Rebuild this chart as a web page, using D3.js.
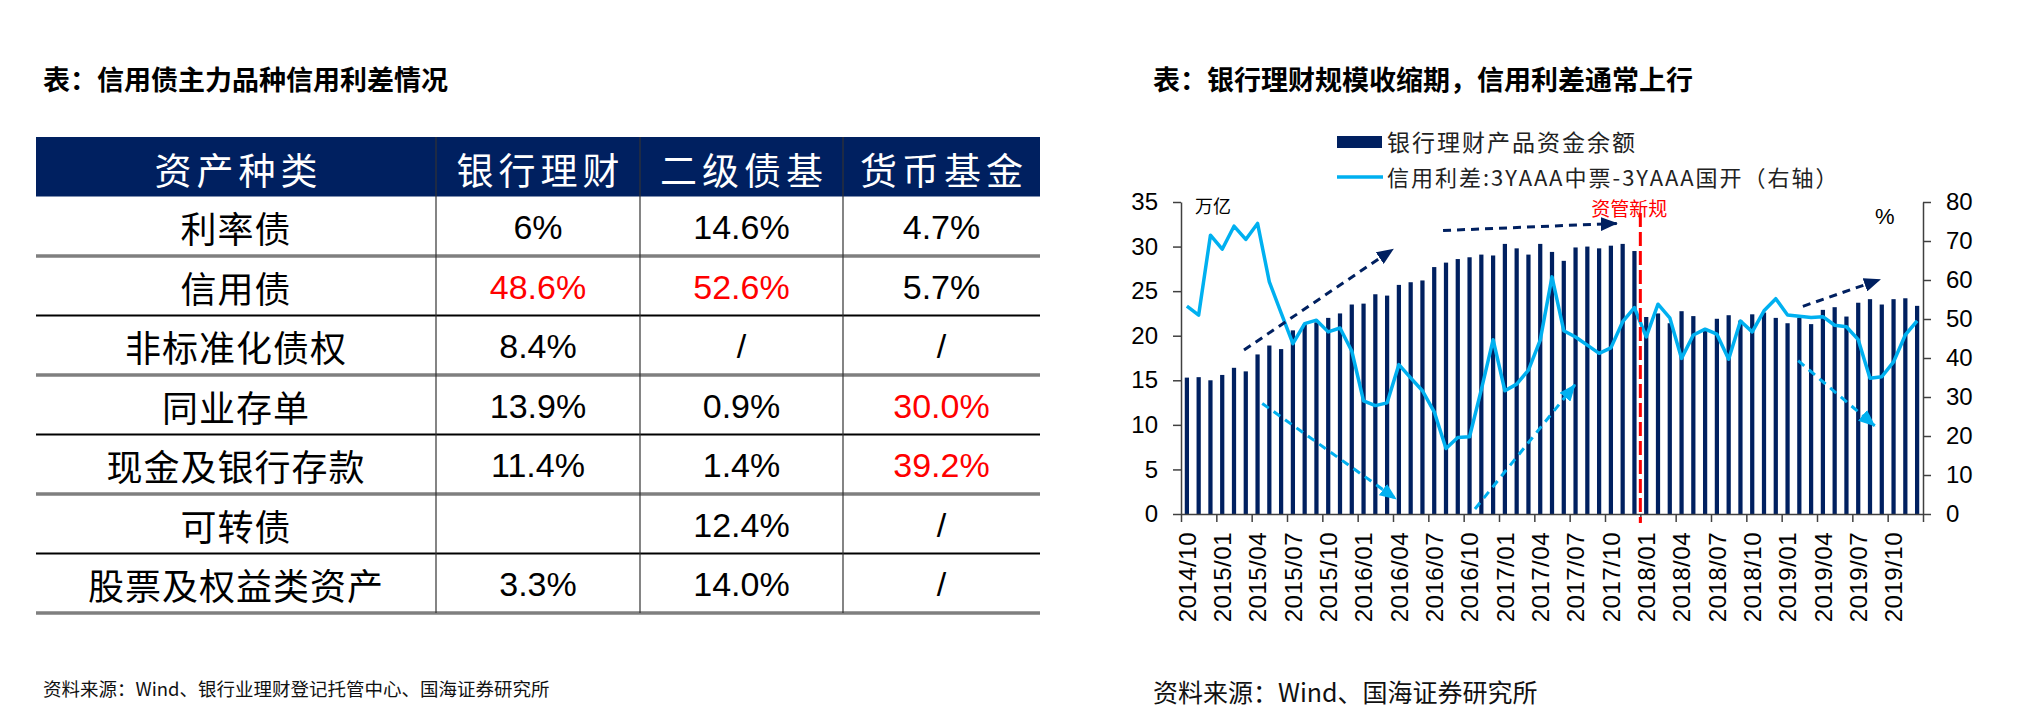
<!DOCTYPE html>
<html>
<head>
<meta charset="utf-8">
<script src="https://cdn.jsdelivr.net/npm/d3@7"></script>
<style>
  body { margin: 0; background: #fff; }
  svg { display: block; }
</style>
</head>
<body>
<svg id="page" width="2032" height="724"></svg>
<script>
// ---------- table data ----------
const tableHeader = ["资产种类", "银行理财", "二级债基", "货币基金"];
const assetTypes = ["利率债", "信用债", "非标准化债权", "同业存单", "现金及银行存款", "可转债", "股票及权益类资产"];
const bankWealth = ["6%", "48.6%", "8.4%", "13.9%", "11.4%", "", "3.3%"];
const bondFundII = ["14.6%", "52.6%", "/", "0.9%", "1.4%", "12.4%", "14.0%"];
const moneyFund = ["4.7%", "5.7%", "/", "30.0%", "39.2%", "/", "/"];
// cells shown in red: "row-col"
const redCells = ["1-1", "1-2", "3-3", "4-3"];

// ---------- chart data ----------
const months = [
  "2014/10","2014/11","2014/12",
  "2015/01","2015/02","2015/03","2015/04","2015/05","2015/06","2015/07","2015/08","2015/09","2015/10","2015/11","2015/12",
  "2016/01","2016/02","2016/03","2016/04","2016/05","2016/06","2016/07","2016/08","2016/09","2016/10","2016/11","2016/12",
  "2017/01","2017/02","2017/03","2017/04","2017/05","2017/06","2017/07","2017/08","2017/09","2017/10","2017/11","2017/12",
  "2018/01","2018/02","2018/03","2018/04","2018/05","2018/06","2018/07","2018/08","2018/09","2018/10","2018/11","2018/12",
  "2019/01","2019/02","2019/03","2019/04","2019/05","2019/06","2019/07","2019/08","2019/09","2019/10","2019/11","2019/12"
];
// 银行理财产品资金余额 (万亿, left axis)
const wealthBalance = [
  15.3, 15.35, 15.0, 15.6, 16.4, 16.0, 17.9, 18.9, 18.5, 20.6,
  21.3, 21.5, 22.0, 22.5, 23.5, 23.6, 24.65, 24.5, 25.7, 26.0,
  26.2, 27.7, 28.2, 28.6, 28.8, 29.1, 29.0, 30.3, 29.8, 29.1,
  30.3, 29.4, 28.4, 29.9, 30.0, 29.8, 30.1, 30.3, 29.5, 22.1,
  22.5, 21.4, 22.75, 22.2, 20.8, 21.9, 22.3, 21.7, 22.4, 22.6,
  22.0, 21.4, 22.0, 21.3, 22.9, 23.2, 22.15, 23.7, 24.1, 23.5,
  24.1, 24.2, 23.35
];
// 信用利差:3YAAA中票-3YAAA国开 (%, right axis)
const creditSpread = [
  53.3, 51.0, 71.5, 67.9, 73.8, 70.4, 74.5, 59.5, 51.6, 43.7,
  48.8, 49.7, 46.7, 47.7, 41.8, 29.0, 27.8, 28.5, 38.3, 34.9,
  31.6, 26.2, 16.8, 19.6, 19.8, 31.9, 44.7, 31.6, 33.3, 36.9,
  44.6, 60.8, 47.0, 45.4, 43.3, 41.2, 42.6, 49.3, 52.9, 45.4,
  53.8, 50.3, 39.9, 45.9, 47.4, 46.1, 39.7, 49.5, 46.7, 52.1,
  55.2, 51.0, 50.7, 50.4, 50.6, 48.4, 48.0, 44.7, 34.8, 35.2,
  39.0, 45.9, 49.5
];
const leftTicks = [0, 5, 10, 15, 20, 25, 30, 35];
const rightTicks = [0, 10, 20, 30, 40, 50, 60, 70, 80];
const tickLabels = ["2014/10","2015/01","2015/04","2015/07","2015/10","2016/01","2016/04","2016/07","2016/10",
  "2017/01","2017/04","2017/07","2017/10","2018/01","2018/04","2018/07","2018/10","2019/01","2019/04","2019/07","2019/10"];
// trend arrows: [start month position, start value(left axis), end position, end value, colour key]
const trendArrows = [
  [5.35, 18.4, 18.0, 29.7, "navy"],
  [22.25, 31.8, 37.0, 32.6, "navy"],
  [6.9, 12.4, 18.25, 1.7, "blue"],
  [24.96, 0.56, 33.45, 14.5, "blue"],
  [52.8, 23.3, 59.35, 26.3, "navy"],
  [52.4, 17.2, 58.9, 9.9, "blue"]
];
const policyMonth = "2018/01"; // 资管新规 marker sits at start of this month

const NAVY = "#002060", BLUE = "#00B0F0", RED = "#FF0000";
const CJK = '"Noto Sans CJK SC", sans-serif';
const LAT = '"Liberation Sans", Arial, sans-serif';

const svg = d3.select("#page");

// ---------- titles and sources ----------
svg.append("text").attr("x", 43).attr("y", 78).attr("dominant-baseline", "central")
  .style("font-family", CJK).style("font-size", "27px").style("font-weight", "bold")
  .text("表：信用债主力品种信用利差情况");
svg.append("text").attr("x", 1153).attr("y", 78).attr("dominant-baseline", "central")
  .style("font-family", CJK).style("font-size", "27px").style("font-weight", "bold")
  .text("表：银行理财规模收缩期，信用利差通常上行");
svg.append("text").attr("x", 43).attr("y", 688).attr("dominant-baseline", "central")
  .style("font-family", CJK).style("font-size", "18.5px").style("fill", "#111")
  .text("资料来源：Wind、银行业理财登记托管中心、国海证券研究所");
svg.append("text").attr("x", 1153).attr("y", 691).attr("dominant-baseline", "central")
  .style("font-family", CJK).style("font-size", "25px").style("fill", "#111")
  .text("资料来源：Wind、国海证券研究所");

// ---------- table ----------
const colEdges = [36, 436, 640, 843, 1040];
const rowBand = d3.scaleBand().domain(d3.range(assetTypes.length + 1)).range([137, 613]);
const columns = [assetTypes, bankWealth, bondFundII, moneyFund];
const colCenter = c => (colEdges[c] + colEdges[c + 1]) / 2;

const table = svg.append("g");
table.append("rect")
  .attr("x", colEdges[0]).attr("y", rowBand(0))
  .attr("width", colEdges[4] - colEdges[0]).attr("height", rowBand.bandwidth())
  .attr("fill", NAVY);

table.selectAll(".head").data(tableHeader).enter().append("text")
  .attr("x", (d, i) => colCenter(i) + 2.5)
  .attr("y", rowBand(0) + rowBand.bandwidth() / 2 + 2)
  .attr("text-anchor", "middle").attr("dominant-baseline", "central")
  .style("font-family", CJK).style("font-size", "37px").style("letter-spacing", "5px")
  .style("fill", "#fff")
  .text(d => d);

// row separators: alternate grey thick / black thin
d3.range(1, assetTypes.length + 1).forEach(r => {
  const y = rowBand(r) + rowBand.bandwidth();
  const grey = r % 2 === 1;
  table.append("line")
    .attr("x1", colEdges[0]).attr("x2", colEdges[4]).attr("y1", y).attr("y2", y)
    .attr("stroke", grey ? "#7f7f7f" : "#000").attr("stroke-width", grey ? 3.5 : 2);
});
// column separators
colEdges.slice(1, 4).forEach(x => {
  table.append("line").attr("x1", x).attr("x2", x)
    .attr("y1", rowBand(0)).attr("y2", rowBand(assetTypes.length) + rowBand.bandwidth())
    .attr("stroke", "#333").attr("stroke-width", 1.2);
});

columns.forEach((col, c) => {
  table.selectAll(".c" + c).data(col).enter().append("text")
    .attr("x", colCenter(c))
    .attr("y", (d, r) => rowBand(r + 1) + rowBand.bandwidth() / 2 + 1)
    .attr("text-anchor", "middle").attr("dominant-baseline", "central")
    .style("font-family", c === 0 ? CJK : LAT)
    .style("font-size", c === 0 ? "36px" : "34px")
    .style("letter-spacing", c === 0 ? "1px" : "0px")
    .style("fill", (d, r) => redCells.includes(r + "-" + c) ? RED : "#000")
    .text(d => d);
});

// ---------- chart ----------
const plot = { left: 1181, right: 1923, top: 202, bottom: 514 };
const x = d3.scaleBand().domain(d3.range(months.length))
  .range([plot.left, plot.right]).paddingInner(0.64).paddingOuter(0.32);
const xb = d3.scaleLinear().domain([0, months.length]).range([plot.left, plot.right]);
const yL = d3.scaleLinear().domain([0, 35]).range([plot.bottom, plot.top]);
const yR = d3.scaleLinear().domain([0, 80]).range([plot.bottom, plot.top]);

const chart = svg.append("g");

chart.selectAll(".bar").data(wealthBalance).enter().append("rect")
  .attr("x", (d, i) => x(i)).attr("width", x.bandwidth())
  .attr("y", d => yL(d)).attr("height", d => yL(0) - yL(d))
  .attr("fill", NAVY);

function styleAxis(g) {
  g.selectAll("line,path").attr("stroke", "#404040").attr("stroke-width", 1.5);
  g.selectAll("text").style("font-family", LAT).style("font-size", "24px").style("fill", "#000");
}

chart.append("g").attr("transform", `translate(${plot.left},0)`)
  .call(d3.axisLeft(yL).tickValues(leftTicks).tickSize(8).tickPadding(15).tickSizeOuter(0))
  .call(styleAxis);
chart.append("g").attr("transform", `translate(${plot.right},0)`)
  .call(d3.axisRight(yR).tickValues(rightTicks).tickSize(8).tickPadding(15).tickSizeOuter(0))
  .call(styleAxis);

chart.append("g").attr("transform", `translate(0,${plot.bottom})`)
  .call(d3.axisBottom(xb).tickValues(d3.range(0, months.length + 1, 3)).tickFormat("").tickSize(8).tickSizeOuter(0))
  .call(styleAxis);

const labelAxis = chart.append("g").attr("transform", `translate(0,${plot.bottom})`)
  .call(d3.axisBottom(x).tickValues(tickLabels.map(t => months.indexOf(t))).tickFormat(i => months[i]).tickSize(0));
labelAxis.select(".domain").remove();
labelAxis.selectAll("text")
  .attr("transform", "rotate(-90)").attr("x", -18).attr("y", 0).attr("dy", "0.36em")
  .style("text-anchor", "end").style("font-family", LAT).style("font-size", "24px")
  .style("letter-spacing", "0.5px").style("fill", "#000");

// spread line
const spreadLine = d3.line()
  .x((d, i) => x(i) + x.bandwidth() / 2)
  .y(d => yR(d));
chart.append("path").datum(creditSpread)
  .attr("d", spreadLine).attr("fill", "none")
  .attr("stroke", BLUE).attr("stroke-width", 3.5).attr("stroke-linejoin", "round");

// arrow markers
const defs = svg.append("defs");
[["navy", NAVY], ["blue", BLUE]].forEach(([key, col]) => {
  defs.append("marker").attr("id", "arrow-" + key)
    .attr("markerUnits", "userSpaceOnUse").attr("markerWidth", 18).attr("markerHeight", 14)
    .attr("refX", 16).attr("refY", 7).attr("orient", "auto")
    .append("path").attr("d", "M0,0 L17,7 L0,14 Z").attr("fill", col);
});
chart.selectAll(".trend").data(trendArrows).enter().append("line")
  .attr("x1", d => xb(d[0])).attr("y1", d => yL(d[1]))
  .attr("x2", d => xb(d[2])).attr("y2", d => yL(d[3]))
  .attr("stroke", d => d[4] === "navy" ? NAVY : BLUE)
  .attr("stroke-width", 3).attr("stroke-dasharray", "8,6")
  .attr("marker-end", d => `url(#arrow-${d[4]})`);

// 资管新规 marker
const policyX = xb(months.indexOf(policyMonth));
chart.append("line")
  .attr("x1", policyX).attr("x2", policyX).attr("y1", 213).attr("y2", plot.bottom + 9)
  .attr("stroke", RED).attr("stroke-width", 3).attr("stroke-dasharray", "14,5");
chart.append("text").attr("x", policyX - 11).attr("y", 207)
  .attr("text-anchor", "middle").attr("dominant-baseline", "central")
  .style("font-family", CJK).style("font-size", "19px").style("fill", RED)
  .text("资管新规");

// unit labels
chart.append("text").attr("x", 1195).attr("y", 205).attr("dominant-baseline", "central")
  .style("font-family", CJK).style("font-size", "18px").text("万亿");
chart.append("text").attr("x", 1875).attr("y", 216).attr("dominant-baseline", "central")
  .style("font-family", LAT).style("font-size", "22px").text("%");

// legend
const legend = chart.append("g");
legend.append("rect").attr("x", 1337).attr("y", 136).attr("width", 45).attr("height", 12).attr("fill", NAVY);
legend.append("line").attr("x1", 1337).attr("x2", 1383).attr("y1", 177).attr("y2", 177)
  .attr("stroke", BLUE).attr("stroke-width", 3.5);
legend.append("text").attr("x", 1387).attr("y", 141).attr("dominant-baseline", "central")
  .style("font-family", CJK).style("font-size", "23px").style("letter-spacing", "2px").style("fill", "#222")
  .text("银行理财产品资金余额");
legend.append("text").attr("x", 1387).attr("y", 176).attr("dominant-baseline", "central")
  .style("font-family", CJK).style("font-size", "22px").style("letter-spacing", "2px").style("fill", "#222")
  .text("信用利差:3YAAA中票-3YAAA国开（右轴）");
</script>
</body>
</html>
